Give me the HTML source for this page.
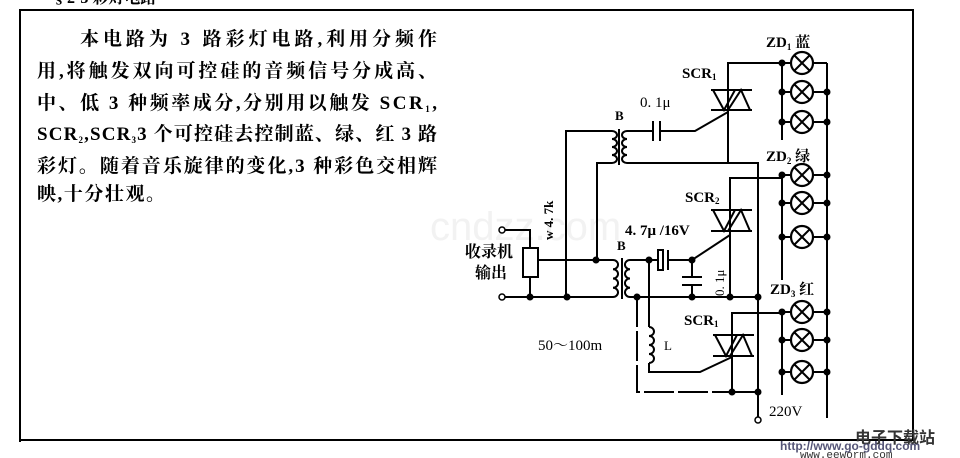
<!DOCTYPE html>
<html><head><meta charset="utf-8"><style>
html,body{margin:0;padding:0;background:#fff;width:960px;height:458px;overflow:hidden}
</style></head><body>
<svg width="960" height="458" style="position:absolute;left:0;top:0" xmlns="http://www.w3.org/2000/svg">
<g font-family="Liberation Serif,Noto Serif CJK SC,Noto Sans CJK SC,serif" font-weight="bold" font-size="19" fill="#000">
<text x="80" y="45" textLength="357" lengthAdjust="spacing">本电路为 3 路彩灯电路,利用分频作</text>
<text x="37" y="77" textLength="400" lengthAdjust="spacing">用,将触发双向可控硅的音频信号分成高、</text>
<text x="37" y="109" textLength="400" lengthAdjust="spacing">中、低 3 种频率成分,分别用以触发 SCR<tspan font-size="9" dy="3">1</tspan><tspan dy="-3">,</tspan></text>
<text x="37" y="140" textLength="400" lengthAdjust="spacing">SCR<tspan font-size="9" dy="3">2</tspan><tspan dy="-3">,SCR</tspan><tspan font-size="9" dy="3">3</tspan><tspan dy="-3">3 个可控硅去控制蓝、绿、红 3 路</tspan></text>
<text x="37" y="172" textLength="400" lengthAdjust="spacing">彩灯。随着音乐旋律的变化,3 种彩色交相辉</text>
<text x="37" y="200" textLength="128" lengthAdjust="spacing">映,十分壮观。</text>
</g>
<text x="430" y="240" font-family="Liberation Sans,sans-serif" font-size="40" fill="#f2f2f2">cndzz.com</text>
<g stroke="#000" stroke-width="2" fill="none">
<text x="55" y="3" font-size="16" font-family="Liberation Serif,Noto Serif CJK SC,serif" font-weight="bold" fill="#000" stroke="none">§ 2-3   彩灯电路</text>
<polyline points="20,442 20,10 913,10 913,440 20,440"/>
<line x1="827" y1="63" x2="827" y2="418"/>
<line x1="782" y1="63" x2="782" y2="140"/>
<line x1="782" y1="175" x2="782" y2="280"/>
<line x1="782" y1="312" x2="782" y2="395"/>
<line x1="782" y1="63" x2="827" y2="63"/>
<line x1="782" y1="92" x2="827" y2="92"/><line x1="782" y1="122" x2="827" y2="122"/>
<line x1="782" y1="175" x2="827" y2="175"/><line x1="782" y1="203" x2="827" y2="203"/><line x1="782" y1="237" x2="827" y2="237"/>
<line x1="782" y1="312" x2="827" y2="312"/><line x1="782" y1="340" x2="827" y2="340"/><line x1="782" y1="372" x2="827" y2="372"/>
<polyline points="782,63 728,63 728,163"/>
<polyline points="782,178 730,178 730,297"/>
<polyline points="782,313 732,313 732,392"/>
<line x1="711" y1="90" x2="752" y2="90"/><line x1="711" y1="110" x2="752" y2="110"/>
<line x1="711" y1="210" x2="752" y2="210"/><line x1="711" y1="231" x2="752" y2="231"/>
<line x1="713" y1="335" x2="754" y2="335"/><line x1="713" y1="356" x2="754" y2="356"/>
<polyline points="612,131 566,131 566,297"/>
<polyline points="612,163 597,163 597,260"/>
<path d="M612,131 a5,4 0 0 1 0,8 a5,4 0 0 1 0,8 a5,4 0 0 1 0,8 a5,4 0 0 1 0,8"/>
<line x1="619" y1="129" x2="619" y2="165"/>
<path d="M627,131 a5,4 0 0 0 0,8 a5,4 0 0 0 0,8 a5,4 0 0 0 0,8 a5,4 0 0 0 0,8"/>
<polyline points="627,131 653,131"/><line x1="653" y1="121" x2="653" y2="141"/><line x1="660" y1="121" x2="660" y2="141"/>
<polyline points="660,131 695,131 728,112"/>
<polyline points="627,163 758,163 758,419"/>
<polyline points="505,230 530,230 530,248"/>
<rect x="523" y="248" width="15" height="29"/>
<polyline points="530,277 530,297"/>
<line x1="505" y1="297" x2="613" y2="297"/>
<polyline points="538,260 613,260"/>
<path d="M613,260 a5,4.6 0 0 1 0,9.25 a5,4.6 0 0 1 0,9.25 a5,4.6 0 0 1 0,9.25 a5,4.6 0 0 1 0,9.25"/>
<line x1="622" y1="258" x2="622" y2="299"/>
<path d="M630,260 a5,4.6 0 0 0 0,9.25 a5,4.6 0 0 0 0,9.25 a5,4.6 0 0 0 0,9.25 a5,4.6 0 0 0 0,9.25"/>
<polyline points="630,260 657,260"/><rect x="658" y="250" width="5" height="20"/><line x1="668" y1="250" x2="668" y2="270"/>
<polyline points="668,260 692,260 730,235"/>
<polyline points="692,260 692,277"/><line x1="682" y1="277" x2="702" y2="277"/><line x1="682" y1="285" x2="702" y2="285"/><line x1="692" y1="285" x2="692" y2="297"/>
<line x1="630" y1="297" x2="758" y2="297"/>
<polyline points="649,260 649,327"/>
<path d="M649,327 a5,4.5 0 0 1 0,9 a5,4.5 0 0 1 0,9 a5,4.5 0 0 1 0,9 a5,4.5 0 0 1 0,9"/>
<polyline points="649,363 649,372 700,372 732,357"/>
<polyline points="637,297 637,392 732,392" stroke-dasharray="30,4"/>
<line x1="732" y1="392" x2="758" y2="392"/>
</g>
<g fill="none" stroke="#000" stroke-width="2">
<polygon points="713,90 735,90 724,110"/><polygon points="728,110 750,110 741,90"/>
<polygon points="713,210 735,210 724,231"/><polygon points="728,231 750,231 741,210"/>
<polygon points="715,335 737,335 726,356"/><polygon points="730,356 752,356 743,335"/>
</g>
<g fill="#fff" stroke="#000" stroke-width="2.2">
<circle cx="802" cy="63" r="11"/>
<circle cx="802" cy="92" r="11"/><circle cx="802" cy="122" r="11"/>
<circle cx="802" cy="175" r="11"/><circle cx="802" cy="203" r="11"/><circle cx="802" cy="237" r="11"/>
<circle cx="802" cy="312" r="11"/><circle cx="802" cy="340" r="11"/><circle cx="802" cy="372" r="11"/>
</g>
<g stroke="#000" stroke-width="2">
<path d="M794,55l16,16M810,55l-16,16M794,84l16,16M810,84l-16,16M794,114l16,16M810,114l-16,16M794,167l16,16M810,167l-16,16M794,195l16,16M810,195l-16,16M794,229l16,16M810,229l-16,16M794,304l16,16M810,304l-16,16M794,332l16,16M810,332l-16,16M794,364l16,16M810,364l-16,16"/>
</g>
<g fill="#000">
<circle cx="782" cy="63" r="3.5"/><circle cx="782" cy="92" r="3.5"/><circle cx="827" cy="92" r="3.5"/><circle cx="782" cy="122" r="3.5"/><circle cx="827" cy="122" r="3.5"/>
<circle cx="782" cy="175" r="3.5"/><circle cx="827" cy="175" r="3.5"/><circle cx="782" cy="203" r="3.5"/><circle cx="827" cy="203" r="3.5"/><circle cx="782" cy="237" r="3.5"/><circle cx="827" cy="237" r="3.5"/>
<circle cx="782" cy="312" r="3.5"/><circle cx="827" cy="312" r="3.5"/><circle cx="782" cy="340" r="3.5"/><circle cx="827" cy="340" r="3.5"/><circle cx="782" cy="372" r="3.5"/><circle cx="827" cy="372" r="3.5"/>
<circle cx="530" cy="297" r="3.5"/><circle cx="567" cy="297" r="3.5"/><circle cx="596" cy="260" r="3.5"/><circle cx="649" cy="260" r="3.5"/><circle cx="692" cy="260" r="3.5"/>
<circle cx="637" cy="297" r="3.5"/><circle cx="692" cy="297" r="3.5"/><circle cx="730" cy="297" r="3.5"/><circle cx="758" cy="297" r="3.5"/>
<circle cx="732" cy="392" r="3.5"/><circle cx="758" cy="392" r="3.5"/>
</g>
<g fill="#fff" stroke="#000" stroke-width="1.5">
<circle cx="502" cy="230" r="3"/><circle cx="502" cy="297" r="3"/><circle cx="758" cy="420" r="3"/>
</g>
<g font-family="Liberation Serif,Noto Serif CJK SC,serif" font-weight="bold" font-size="15" fill="#000">
<text x="766" y="47">ZD<tspan font-size="9" dy="3">1</tspan><tspan dy="-3"> 蓝</tspan></text>
<text x="766" y="161">ZD<tspan font-size="9" dy="3">2</tspan><tspan dy="-3"> 绿</tspan></text>
<text x="770" y="294">ZD<tspan font-size="9" dy="3">3</tspan><tspan dy="-3"> 红</tspan></text>
<text x="682" y="78">SCR<tspan font-size="9" dy="2">1</tspan></text>
<text x="685" y="202">SCR<tspan font-size="9" dy="2">2</tspan></text>
<text x="684" y="325">SCR<tspan font-size="9" dy="2">1</tspan></text>
<text x="615" y="120" font-size="13">B</text>
<text x="617" y="250" font-size="13">B</text>
<text x="640" y="107" font-weight="normal">0. 1μ</text>
<text x="625" y="235">4. 7μ  /16V</text>
<text x="538" y="350" font-weight="normal">50～100m</text>
<text x="664" y="350" font-weight="normal" font-size="13">L</text>
<text x="769" y="416" font-weight="normal">220V</text>
<text x="465" y="257" font-size="16">收录机</text>
<text x="475" y="278" font-size="16">输出</text>
<text transform="translate(553,240) rotate(-90)" font-size="13">w 4. 7k</text>
<text transform="translate(724,296) rotate(-90)" font-size="13" font-weight="normal">0. 1μ</text>
</g>
<text x="855" y="443" font-family="Liberation Sans,Noto Sans CJK SC,sans-serif" font-size="16" font-weight="bold" fill="#333">电子下载站</text>
<text x="780" y="450" font-family="Liberation Sans,sans-serif" font-size="12" font-weight="bold" fill="#557">http://www.go-gddq.com</text>
<text x="800" y="458" font-family="Liberation Mono,monospace" font-size="11" fill="#333">www.eeworm.com</text>
</svg>
</body></html>
